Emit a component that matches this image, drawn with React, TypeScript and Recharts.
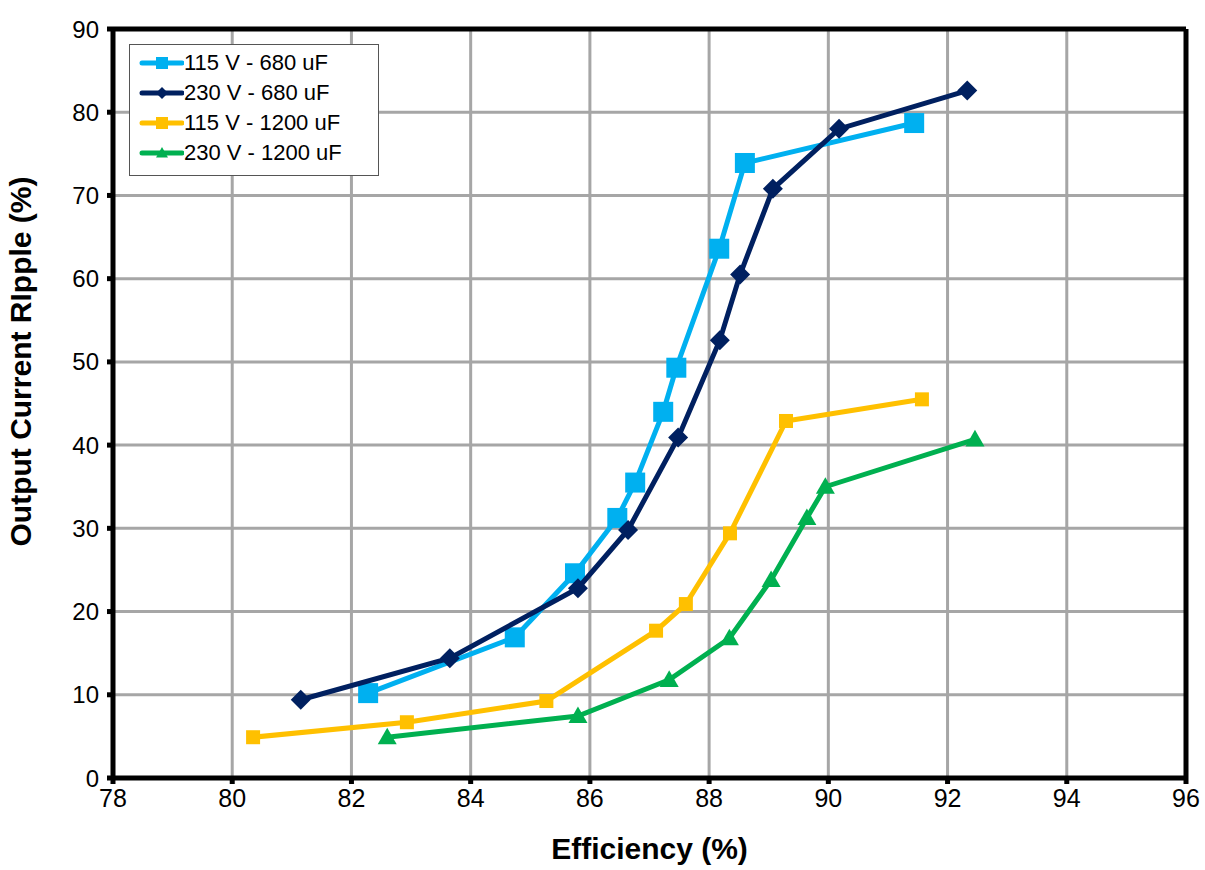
import React from "react";
import { ScatterChart, Scatter, XAxis, YAxis, CartesianGrid, ReferenceLine } from "recharts";

const xTicks = [78, 80, 82, 84, 86, 88, 90, 92, 94, 96];
const yTicks = [0, 10, 20, 30, 40, 50, 60, 70, 80, 90];

const eff115_680 = [82.28, 84.74, 85.75, 86.46, 86.76, 87.23, 87.45, 88.17, 88.6, 91.44];
const rip115_680 = [10.2, 16.9, 24.6, 31.25, 35.5, 44.0, 49.3, 63.6, 73.9, 78.7];

const eff230_680 = [81.15, 83.65, 85.8, 86.64, 87.48, 88.18, 88.52, 89.07, 90.18, 92.33];
const rip230_680 = [9.4, 14.4, 22.8, 29.8, 40.9, 52.6, 60.5, 70.8, 78.0, 82.6];

const eff115_1200 = [80.35, 82.93, 85.27, 87.11, 87.61, 88.35, 89.29, 91.57];
const rip115_1200 = [4.9, 6.7, 9.25, 17.7, 20.9, 29.4, 42.9, 45.5];

const eff230_1200 = [82.6, 85.8, 87.33, 88.34, 89.04, 89.64, 89.95, 92.46];
const rip230_1200 = [4.9, 7.45, 11.8, 16.8, 23.8, 31.25, 35.0, 40.7];

const zip = (xs: number[], ys: number[]) => xs.map((x, i) => ({ x, y: ys[i] }));

type Kind = "square" | "diamond" | "triangle";

const series = [
  { name: "115 V - 680 uF", color: "#00B0F0", kind: "square" as Kind, size: 20, data: zip(eff115_680, rip115_680) },
  { name: "230 V - 680 uF", color: "#002060", kind: "diamond" as Kind, size: 20, data: zip(eff230_680, rip230_680) },
  { name: "115 V - 1200 uF", color: "#FFC000", kind: "square" as Kind, size: 14, data: zip(eff115_1200, rip115_1200) },
  { name: "230 V - 1200 uF", color: "#00B050", kind: "triangle" as Kind, size: 19, data: zip(eff230_1200, rip230_1200) },
];

const font = "'Liberation Sans', Arial, sans-serif";

function Marker({ cx, cy, kind, size, color }: any) {
  const h = size / 2;
  if (kind === "square") return <rect x={cx - h} y={cy - h} width={size} height={size} fill={color} />;
  if (kind === "diamond")
    return <polygon points={`${cx},${cy - h} ${cx + h},${cy} ${cx},${cy + h} ${cx - h},${cy}`} fill={color} />;
  return <polygon points={`${cx},${cy - h} ${cx + h},${cy + h * 0.75} ${cx - h},${cy + h * 0.75}`} fill={color} />;
}

function LegendBox() {
  return (
    <div
      style={{
        position: "absolute", left: 129, top: 44, width: 250, height: 132,
        border: "1.5px solid #555", background: "#fff", boxSizing: "border-box",
        padding: "3px 0", fontFamily: font, fontSize: 22,
      }}
    >
      {series.map((s) => (
        <div key={s.name} style={{ display: "flex", alignItems: "center", height: 30 }}>
          <svg width={54} height={30} style={{ flex: "none" }}>
            <line x1={12} y1={15} x2={52} y2={15} stroke={s.color} strokeWidth={5} strokeLinecap="round" />
            <Marker cx={32} cy={15} kind={s.kind} size={12} color={s.color} />
          </svg>
          <span style={{ color: "#000", whiteSpace: "nowrap" }}>{s.name}</span>
        </div>
      ))}
    </div>
  );
}

export default function App() {
  return (
    <div style={{ position: "absolute", left: 0, top: 0, width: 1205, height: 870, background: "#fff" }}>
      <ScatterChart width={1205} height={870} margin={{ top: 29, right: 19, bottom: 0, left: 53 }}>
        <CartesianGrid stroke="#A6A6A6" strokeWidth={3} horizontalValues={yTicks} verticalValues={xTicks} />
        <XAxis
          type="number"
          dataKey="x"
          domain={[78, 96]}
          ticks={xTicks}
          allowDataOverflow
          height={92}
          stroke="#000"
          strokeWidth={5}
          tickSize={6}
          tickMargin={5}
          tick={{ fill: "#000", fontSize: 25, fontFamily: font }}
          label={{ value: "Efficiency (%)", position: "insideBottom", offset: 11, fill: "#000", fontSize: 30, fontWeight: "bold", fontFamily: font }}
        />
        <YAxis
          type="number"
          dataKey="y"
          domain={[0, 90]}
          ticks={yTicks}
          allowDataOverflow
          width={60}
          stroke="#000"
          strokeWidth={5}
          tickSize={6}
          tickMargin={8}
          tick={{ fill: "#000", fontSize: 24, fontFamily: font }}
          label={{ value: "Output Current RIpple (%)", angle: -90, position: "insideLeft", offset: -33, dy: 143, fill: "#000", fontSize: 30, fontWeight: "bold", fontFamily: font }}
        />
        <ReferenceLine y={90} stroke="#000" strokeWidth={5} />
        <ReferenceLine x={96} stroke="#000" strokeWidth={5} />
        {series.map((s) => (
          <Scatter
            key={s.name}
            name={s.name}
            data={s.data}
            fill={s.color}
            line={{ stroke: s.color, strokeWidth: 5 }}
            lineType="joint"
            isAnimationActive={false}
            shape={(p: any) => <Marker cx={p.cx} cy={p.cy} kind={s.kind} size={s.size} color={s.color} />}
          />
        ))}
      </ScatterChart>
      <LegendBox />
    </div>
  );
}
